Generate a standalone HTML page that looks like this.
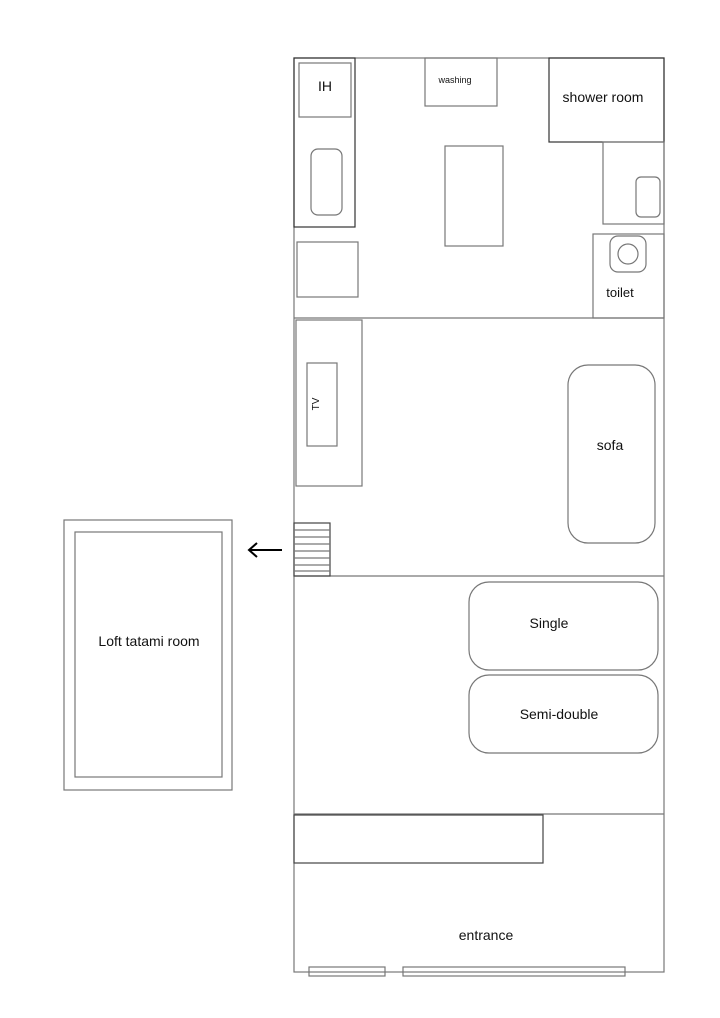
<!DOCTYPE html>
<html><head><meta charset="utf-8"><style>
html,body{margin:0;padding:0;background:#fff;}
svg{display:block;}
text{font-family:"Liberation Sans",sans-serif;fill:#111;}
</style></head><body>
<svg width="720" height="1018" viewBox="0 0 720 1018" xmlns="http://www.w3.org/2000/svg">
<g fill="none" stroke="#777" stroke-width="1.2">
<rect x="294" y="58" width="370" height="914"/>
<line x1="294" y1="318" x2="664" y2="318"/>
<line x1="294" y1="576" x2="664" y2="576"/>
<line x1="294" y1="814" x2="664" y2="814"/>
<rect x="294" y="58" width="61" height="169" stroke="#333"/>
<rect x="299" y="63" width="52" height="54"/>
<rect x="311" y="149" width="31" height="66" rx="7"/>
<rect x="425" y="58" width="72" height="48"/>
<rect x="445" y="146" width="58" height="100"/>
<rect x="297" y="242" width="61" height="55"/>
<rect x="549" y="58" width="115" height="84" stroke="#333"/>
<rect x="603" y="142" width="61" height="82"/>
<rect x="636" y="177" width="24" height="40" rx="5"/>
<rect x="593" y="234" width="71" height="84"/>
<rect x="610" y="236" width="36" height="36" rx="8"/>
<circle cx="628" cy="254" r="10"/>
<rect x="296" y="320" width="66" height="166"/>
<rect x="307" y="363" width="30" height="83"/>
<rect x="568" y="365" width="87" height="178" rx="20"/>
<rect x="294" y="523" width="36" height="53" stroke="#444"/>
<line x1="294" y1="530" x2="330" y2="530"/><line x1="294" y1="537" x2="330" y2="537"/>
<line x1="294" y1="544" x2="330" y2="544"/><line x1="294" y1="551" x2="330" y2="551"/>
<line x1="294" y1="558" x2="330" y2="558"/><line x1="294" y1="565" x2="330" y2="565"/>
<line x1="294" y1="571" x2="330" y2="571"/>
<rect x="64" y="520" width="168" height="270"/>
<rect x="75" y="532" width="147" height="245"/>
<rect x="469" y="582" width="189" height="88" rx="20"/>
<rect x="469" y="675" width="189" height="78" rx="20"/>
<rect x="294" y="815" width="249" height="48" stroke="#444"/>
<rect x="309" y="967" width="76" height="9"/>
<rect x="403" y="967" width="222" height="9"/>
</g>
<g stroke="#000" stroke-width="2" fill="none">
<line x1="249" y1="550" x2="282" y2="550"/>
<polyline points="257,543 249,550 257,557"/>
</g>
<text x="325" y="91" font-size="14" text-anchor="middle">IH</text>
<text x="455" y="83" font-size="9" text-anchor="middle">washing</text>
<text x="603" y="102" font-size="14" text-anchor="middle">shower room</text>
<text x="620" y="297" font-size="13" text-anchor="middle">toilet</text>
<text x="0" y="0" font-size="10" text-anchor="middle" transform="translate(319,404) rotate(-90)">TV</text>
<text x="610" y="450" font-size="14" text-anchor="middle">sofa</text>
<text x="149" y="646" font-size="14" text-anchor="middle">Loft tatami room</text>
<text x="549" y="628" font-size="14" text-anchor="middle">Single</text>
<text x="559" y="719" font-size="14" text-anchor="middle">Semi-double</text>
<text x="486" y="940" font-size="14" text-anchor="middle">entrance</text>
</svg>
</body></html>
